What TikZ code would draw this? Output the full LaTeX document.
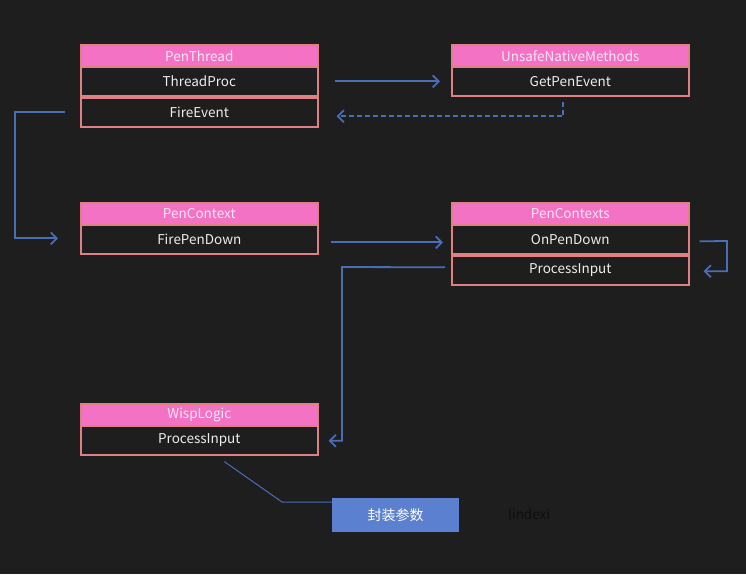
\documentclass[tikz,border=0pt]{standalone}
\usepackage{fontspec}
\setmainfont{Noto Sans CJK SC}
\usetikzlibrary{arrows.meta}
\definecolor{bg}{HTML}{1E1E1E}
\definecolor{hdrfill}{HTML}{F472C4}
\definecolor{edge}{HTML}{DE8084}
\definecolor{hdrtxt}{HTML}{FCE6F4}
\definecolor{rowtxt}{HTML}{EDEDED}
\definecolor{flowc}{HTML}{4A6DB8}
\definecolor{boxblue}{HTML}{5B80D0}
\definecolor{signc}{HTML}{0E0E0E}
\tikzset{
  hdr/.style={rectangle, anchor=north west, fill=hdrfill, draw=edge, line width=1.6pt,
    minimum width=237pt, minimum height=22pt, inner sep=0pt, text=hdrtxt,
    font=\fontsize{13.5}{15}\selectfont},
  row/.style={rectangle, anchor=north west, fill=bg, draw=edge, line width=1.6pt,
    minimum width=237pt, minimum height=29pt, inner sep=0pt, text=rowtxt,
    font=\fontsize{13.5}{15}\selectfont},
  flow/.style={draw=flowc, line width=1.8pt, -{Straight Barb[length=6pt,width=12pt,line width=1.8pt]}},
  dflow/.style={flow, dash pattern=on 5pt off 3pt},
  note/.style={draw=flowc, line width=1pt},
}
\begin{document}
\begin{tikzpicture}[x=1pt,y=-1pt]
\fill[bg] (0,0) rectangle (746,574);
\useasboundingbox (0,0) rectangle (746,574);

% PenThread
\node[hdr] (pt) at (80,44) {PenThread};
\node[row] (tp) at (80,66) {ThreadProc};
\node[row] (fe) at (80,97) {FireEvent};
% UnsafeNativeMethods
\node[hdr] (unm) at (451,44) {UnsafeNativeMethods};
\node[row] (gpe) at (451,66) {GetPenEvent};
% PenContext
\node[hdr] (pc) at (80,202) {PenContext};
\node[row] (fpd) at (80,224) {FirePenDown};
% PenContexts
\node[hdr] (pcs) at (451,202) {PenContexts};
\node[row] (opd) at (451,224) {OnPenDown};
\node[row] (pi) at (451,255) {ProcessInput};
% WispLogic
\node[hdr] (wl) at (80,403) {WispLogic};
\node[row] (wpi) at (80,425) {ProcessInput};
% note box
\node[rectangle, anchor=north west, fill=boxblue, minimum width=127pt, minimum height=34pt,
  inner sep=0pt, text=white, font=\fontsize{14}{16}\selectfont] (pack) at (332,498) {封装参数};
\node[anchor=west, text=signc, inner sep=0pt, font=\fontsize{13.5}{15}\selectfont] (sign) at (508,514) {lindexi};

% connectors
\draw[flow, shorten <=16pt, shorten >=11pt] (tp.east) -- (gpe.west);
\coordinate (dstart) at ([xshift=-7pt,yshift=-5pt]gpe.south);
\coordinate (dend) at ([xshift=18pt,yshift=-4pt]fe.east);
\draw[dflow] (dstart) |- (dend);
\coordinate (lstart) at ([xshift=-15pt]fe.west);
\coordinate (lend) at ([xshift=-22pt,yshift=1pt]fpd.west);
\draw[flow] (lstart) -- ++(-50,0) |- (lend);
\draw[flow, shorten <=12pt, shorten >=8pt] ([yshift=-3pt]fpd.east) -- ([yshift=-3pt]opd.west);
\coordinate (sl1) at ([xshift=10pt,yshift=-2pt]opd.east);
\coordinate (sl2) at ([xshift=14pt,yshift=-1pt]pi.east);
\draw[flow] (sl1) -- (727,241) |- (sl2);
\coordinate (pw1) at ([xshift=-6pt,yshift=3pt]pi.west);
\coordinate (pw2) at ([xshift=10pt,yshift=-0.5pt]wpi.east);
\draw[flow] (pw1) -- (342,267) |- (pw2);
\coordinate (nb) at ([xshift=25pt,yshift=-6pt]wpi.south);
\draw[note] (nb) -- (282,502) -- ([yshift=13pt]pack.west);
\end{tikzpicture}
\end{document}
